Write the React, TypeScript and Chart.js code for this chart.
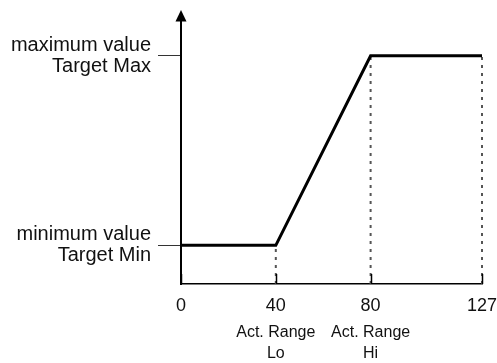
import React, { useEffect, useRef } from "react";
import { Chart, registerables } from "chart.js";

Chart.register(...registerables);

// ---- data ----
const xTicks = [0, 40, 80, 127];
const xTickLabels = ["0", "40", "80", "127"];
const rangeTicks = [40, 80];
const rangeLabels = [
  ["Act. Range", "Lo"],
  ["Act. Range", "Hi"],
];
const yTicks = [10, 59]; // Target Min, Target Max (schematic values)
const yTickLabels = [
  ["minimum value", "Target Min"],
  ["maximum value", "Target Max"],
];
const curveX = [0, 40, 80, 127];
const curveY = [10, 10, 59, 59];
const dropX = [40, 80, 127];
const dropY = [10, 59, 59];
const xMin = 0;
const xMax = 127;
const yMin = 0;
const yMax = 68;

const FONT = "'Liberation Sans', Arial, sans-serif";

const arrowPlugin = {
  id: "axisDecor",
  afterDraw(chart: any) {
    const { ctx, chartArea, scales } = chart;
    const xs = scales.x;
    ctx.save();
    // arrow on y axis
    const ax = chartArea.left;
    const top = chartArea.top;
    ctx.fillStyle = "#000";
    ctx.beginPath();
    ctx.moveTo(ax, top - 11);
    ctx.lineTo(ax - 5.5, top + 0.5);
    ctx.lineTo(ax + 5.5, top + 0.5);
    ctx.closePath();
    ctx.fill();
    // inward tick marks on x axis
    ctx.strokeStyle = "#000";
    ctx.lineWidth = 1.5;
    xTicks.forEach((v) => {
      const px = Math.round(xs.getPixelForValue(v)) + 0.5;
      ctx.beginPath();
      ctx.moveTo(px, chartArea.bottom);
      ctx.lineTo(px, chartArea.bottom - 10);
      ctx.stroke();
    });
    ctx.restore();
  },
};

export default function App() {
  const ref = useRef<HTMLCanvasElement>(null);

  useEffect(() => {
    if (!ref.current) return;
    const dropSets = dropX.map((x, i) => ({
      data: [
        { x, y: yMin },
        { x, y: dropY[i] },
      ],
      borderColor: "#555",
      borderWidth: 2,
      borderDash: [3, 5],
      pointRadius: 0,
      order: 2,
      clip: false as any,
    }));
    const chart = new Chart(ref.current, {
      type: "line",
      data: {
        datasets: [
          {
            data: curveX.map((x, i) => ({ x, y: curveY[i] })),
            borderColor: "#000",
            borderWidth: 3,
            pointRadius: 0,
            tension: 0,
            order: 1,
            clip: false as any,
          },
          ...dropSets,
        ],
      },
      options: {
        animation: false,
        responsive: false,
        layout: { padding: { top: 21, right: 15, left: 0, bottom: 0 } },
        plugins: { legend: { display: false }, tooltip: { enabled: false } },
        scales: {
          x: {
            type: "linear",
            position: "bottom",
            min: xMin,
            max: xMax,
            afterBuildTicks: (s: any) => {
              s.ticks = xTicks.map((v) => ({ value: v }));
            },
            afterFit: (s: any) => {
              s.height = 36;
              s.paddingLeft = 0;
              s.paddingRight = 0;
            },
            ticks: {
              autoSkip: false,
              maxRotation: 0,
              padding: 11,
              color: "#111",
              font: { family: FONT, size: 18 },
              callback: (v: any) => xTickLabels[xTicks.indexOf(Number(v))] ?? "",
            },
            grid: { display: false, drawTicks: false, tickLength: 0 },
            border: { display: true, color: "#000", width: 1.5 },
          },
          x2: {
            type: "linear",
            position: "bottom",
            min: xMin,
            max: xMax,
            afterBuildTicks: (s: any) => {
              s.ticks = rangeTicks.map((v) => ({ value: v }));
            },
            afterFit: (s: any) => {
              s.height = 43;
              s.paddingLeft = 0;
              s.paddingRight = 0;
            },
            ticks: {
              autoSkip: false,
              maxRotation: 0,
              padding: 2,
              color: "#111",
              font: { family: FONT, size: 16, lineHeight: "21px" },
              callback: (v: any) => rangeLabels[rangeTicks.indexOf(Number(v))] ?? "",
            },
            grid: { display: false, drawTicks: false, tickLength: 0 },
            border: { display: false },
          },
          y: {
            type: "linear",
            position: "left",
            min: yMin,
            max: yMax,
            afterBuildTicks: (s: any) => {
              s.ticks = yTicks.map((v) => ({ value: v }));
            },
            afterFit: (s: any) => {
              s.width = 181;
              s.paddingTop = 0;
              s.paddingBottom = 0;
            },
            ticks: {
              autoSkip: false,
              padding: 7,
              color: "#111",
              font: { family: FONT, size: 20, lineHeight: "21px" },
              callback: (v: any) => yTickLabels[yTicks.indexOf(Number(v))] ?? "",
            },
            grid: {
              display: true,
              drawOnChartArea: false,
              drawTicks: true,
              tickLength: 23,
              tickColor: "#333",
              tickWidth: 1,
            },
            border: { display: true, color: "#000", width: 2 },
          },
        },
      },
      plugins: [arrowPlugin],
    } as any);
    return () => chart.destroy();
  }, []);

  return (
    <div style={{ position: "absolute", left: 0, top: 0, width: 497, height: 363, background: "#fff" }}>
      <canvas ref={ref} width={497} height={363} style={{ display: "block" }} />
    </div>
  );
}
